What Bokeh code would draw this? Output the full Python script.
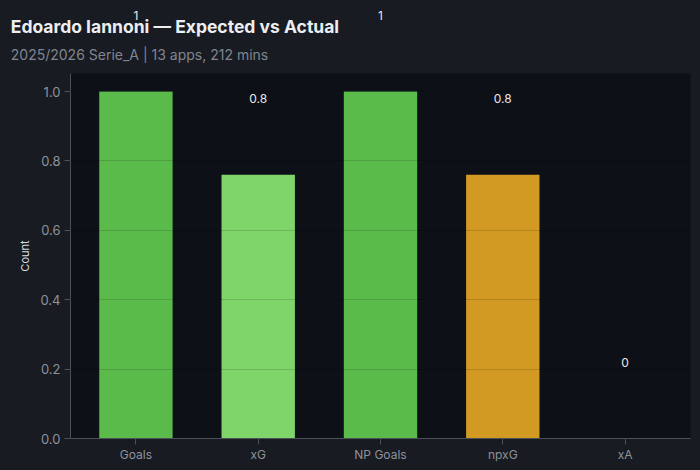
from bokeh.plotting import figure
from bokeh.models import ColumnDataSource, FactorRange, Range1d, Label, FixedTicker, PrintfTickFormatter
from bokeh.embed import file_html
from bokeh.resources import INLINE

categories = ["Goals", "xG", "NP Goals", "npxG", "xA"]
values = [1.0, 0.76, 1.0, 0.76, 0.0]
bar_colors = ["#5aba4a", "#7fd46a", "#5aba4a", "#d29a22", "#5aba4a"]
y_ticks = [0.0, 0.2, 0.4, 0.6, 0.8, 1.0]
title_text = "Edoardo Iannoni \u2014 Expected vs Actual"
subtitle_text = "2025/2026 Serie_A | 13 apps, 212 mins"

label_text = [f"{v:.1f}".rstrip("0").rstrip(".") for v in values]

src = ColumnDataSource(dict(cat=categories, val=values, color=bar_colors))

FIG_BG = "#181b22"
PLOT_BG = "#0d1017"
FONT = "Inter"
Y_END = 1.052
W, H = 700, 470
TOP, BOTTOM = 73, 32
FRAME_H = H - TOP - BOTTOM
LABEL_OFFSET_PX = 76

p = figure(width=W, height=H, output_backend="svg", toolbar_location=None,
           x_range=FactorRange(factors=categories, range_padding=0.014),
           y_range=Range1d(0, Y_END),
           min_border_left=70, min_border_right=10, min_border_bottom=BOTTOM, min_border_top=TOP)
p.background_fill_color = PLOT_BG
p.border_fill_color = FIG_BG
p.outline_line_color = None
p.title.text = ""
p.title.visible = False

p.vbar(x="cat", top="val", width=0.6, source=src, fill_color="color", line_color=None)

# value labels; those that float above the plot area go to the top panel (not clipped there)
for i, (v, t) in enumerate(zip(values, label_text)):
    lab = Label(x=i + 0.5, y=v, text=t, y_offset=LABEL_OFFSET_PX,
                text_align="center", text_baseline="middle",
                text_font=FONT, text_font_size="12px", text_font_style="normal",
                text_color="#e8e8ea")
    if v + LABEL_OFFSET_PX * Y_END / FRAME_H > Y_END:
        p.add_layout(lab, "above")
    else:
        p.add_layout(lab)

# title and subtitle, anchored at the top-left of the plot area
p.add_layout(Label(x=0, y=Y_END, x_offset=-64, y_offset=47, text=title_text,
                   text_align="left", text_baseline="middle",
                   text_font=FONT, text_font_size="17.5px", text_font_style="bold",
                   text_color="#eceef2"), "above")
p.add_layout(Label(x=0, y=Y_END, x_offset=-64, y_offset=19, text=subtitle_text,
                   text_align="left", text_baseline="middle",
                   text_font=FONT, text_font_size="14px", text_font_style="normal",
                   text_color="#80858f"), "above")

for ax in (p.xaxis[0], p.yaxis[0]):
    ax.axis_line_color = "#4a4f58"
    ax.major_tick_line_color = "#4a4f58"
    ax.major_tick_out = 6
    ax.major_tick_in = 0
    ax.minor_tick_line_color = None
    ax.major_label_text_font = FONT
    ax.major_label_text_color = "#8d929b"

p.xaxis.major_label_standoff = 2
p.yaxis.major_label_standoff = 4
p.xaxis.major_label_text_font_size = "12px"
p.yaxis.major_label_text_font_size = "13px"
p.yaxis.ticker = FixedTicker(ticks=y_ticks)
p.yaxis.formatter = PrintfTickFormatter(format="%.1f")
p.yaxis.axis_label = "Count"
p.yaxis.axis_label_text_font = FONT
p.yaxis.axis_label_text_font_size = "11px"
p.yaxis.axis_label_text_font_style = "normal"
p.yaxis.axis_label_text_color = "#d8dade"
p.yaxis.axis_label_standoff = 5

p.xgrid.grid_line_color = None
p.ygrid.grid_line_color = "#000000"
p.ygrid.grid_line_alpha = 0.14
p.ygrid.level = "overlay"
p.ygrid.ticker = FixedTicker(ticks=y_ticks)

html = file_html(p, INLINE)
html = html.replace("<head>", "<head><style>html,body{background:#181b22;}</style>", 1)
open("out.html", "w").write(html)
